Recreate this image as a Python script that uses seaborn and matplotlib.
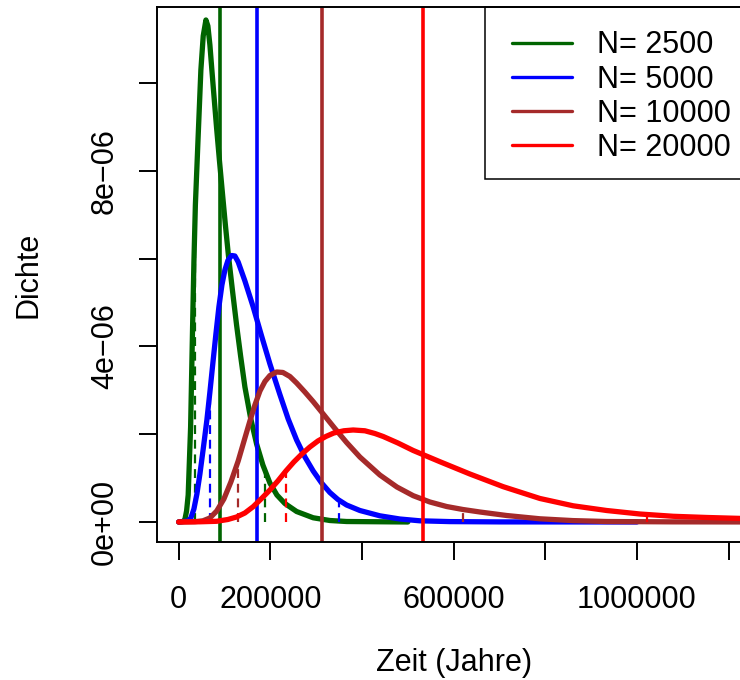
import matplotlib
matplotlib.use("Agg")
import matplotlib.pyplot as plt
import seaborn as sns
import pandas as pd
from matplotlib.lines import Line2D
from matplotlib.patches import Rectangle
from matplotlib.legend_handler import HandlerLine2D

sns.set_theme(style="white")
plt.rcParams['font.family'] = ['Liberation Sans', 'DejaVu Sans']
plt.rcParams['text.color'] = 'black'

# ---------------- data ----------------
series_labels = ["N= 2500", "N= 5000", "N= 10000", "N= 20000"]
series_colors = ["#006400", "#0000FF", "#A52A2A", "#FF0000"]

x_2500 = [0, 9200, 13500, 17200, 20700, 26000, 30300, 33200, 36400, 42500, 48400, 53500,
          59400, 63700, 68100, 72400, 76800, 82700, 88800, 95400, 101900, 108400, 117200,
          126300, 135100, 144500, 156900, 170000, 183700, 199000, 214300, 231700, 257300,
          293500, 329900, 366400, 500000]
y_2500 = [0, 1.1e-8, 5.7e-8, 2.51e-7, 6.15e-7, 2.165e-6, 4.445e-6, 5.926e-6, 7.225e-6,
          8.798e-6, 1.0302e-5, 1.1077e-5,
          1.1442e-5, 1.1305e-5, 1.0872e-5, 1.0302e-5, 9.733e-6, 8.980e-6, 8.251e-6, 7.499e-6,
          6.769e-6, 6.086e-6, 5.288e-6, 4.490e-6, 3.784e-6, 3.077e-6, 2.371e-6, 1.778e-6,
          1.299e-6, 8.89e-7, 6.15e-7, 4.22e-7, 2.39e-7, 9.6e-8, 3.4e-8, 1.1e-8, 0]

x_5000 = [0, 20100, 26600, 33200, 39700, 46300, 53500, 61500, 68100, 74600, 81200, 87700,
          94300, 100800, 107400, 115400, 122600, 129800, 144500, 162600, 180900, 199100,
          220800, 238900, 257300, 275400, 293500, 311800, 329900, 347400, 366400, 395400,
          439000, 482700, 526300, 591800, 700900, 1000000]
y_5000 = [0, 2.3e-8, 9.1e-8, 2.96e-7, 6.38e-7, 1.094e-6, 1.664e-6, 2.325e-6, 2.963e-6,
          3.624e-6, 4.285e-6, 4.900e-6, 5.402e-6, 5.744e-6, 5.960e-6, 6.074e-6, 6.063e-6,
          5.926e-6, 5.493e-6, 4.900e-6, 4.239e-6, 3.601e-6, 2.906e-6, 2.348e-6, 1.869e-6,
          1.482e-6, 1.162e-6, 8.89e-7, 6.72e-7, 5.13e-7, 3.87e-7, 2.62e-7, 1.41e-7, 6.8e-8,
          2.7e-8, 9e-9, 2e-9, 0]

x_10000 = [0, 35300, 52800, 68100, 83000, 98600, 113900, 129800, 144500, 155400, 166300,
           177300, 188200, 199100, 213600, 227400, 242700, 257300, 275300, 293600, 315300,
           340900, 366400, 395400, 439000, 476100, 511700, 548100, 584600, 620100, 657200,
           715500, 788200, 860100, 933700, 1078300, 1224700, 1400000]
y_10000 = [0, 7e-9, 2.7e-8, 9.1e-8, 2.51e-7, 5.24e-7, 9.12e-7, 1.390e-6, 1.915e-6, 2.302e-6,
           2.667e-6, 2.986e-6, 3.203e-6, 3.339e-6, 3.419e-6, 3.408e-6, 3.316e-6, 3.168e-6,
           2.963e-6, 2.742e-6, 2.462e-6, 2.131e-6, 1.812e-6, 1.481e-6, 1.071e-6, 7.98e-7,
           6.0e-7, 4.56e-7, 3.53e-7, 2.85e-7, 2.28e-7, 1.48e-7, 7.3e-8, 3.2e-8, 1.1e-8,
           3e-9, 1e-9, 0]

x_20000 = [0, 46300, 82700, 107300, 126300, 144400, 162500, 180900, 199000, 216400, 233900,
           251300, 268800, 286200, 303700, 321100, 338600, 360400, 380700, 406300, 428100,
           446200, 478300, 511700, 570000, 635400, 708100, 788200, 860900, 933800, 1006500,
           1079200, 1152000, 1224700, 1300000]
y_20000 = [0, 4.6e-9, 1.6e-8, 5.7e-8, 1.14e-7, 2.05e-7, 3.49e-7, 5.36e-7, 7.29e-7, 9.35e-7,
           1.162e-6, 1.368e-6, 1.550e-6, 1.709e-6, 1.846e-6, 1.949e-6, 2.029e-6, 2.079e-6,
           2.097e-6, 2.079e-6, 2.017e-6, 1.949e-6, 1.801e-6, 1.630e-6, 1.374e-6, 1.094e-6,
           8.05e-7, 5.36e-7, 3.69e-7, 2.62e-7, 1.82e-7, 1.30e-7, 1.03e-7, 8.2e-8, 6.5e-8]

means = [91000, 171800, 312900, 532100]
q_low = [34900, 69200, 129500, 233600]
d_low = [7.0e-6, 3.07e-6, 1.39e-6, 1.16e-6]
q_high = [187800, 349300, 619400, 1021000]
d_high = [1.2e-6, 5.1e-7, 2.87e-7, 1.75e-7]

x_ticks = [0, 200000, 400000, 600000, 800000, 1000000, 1200000]
x_ticklabels = ["0", "200000", "", "600000", "", "1000000", ""]
y_ticks = [0, 2e-6, 4e-6, 6e-6, 8e-6, 1e-5]
y_ticklabels = ["0e+00", "", "4e\u221206", "", "8e\u221206", ""]

xs = [x_2500, x_5000, x_10000, x_20000]
ys = [y_2500, y_5000, y_10000, y_20000]

# ---------------- figure ----------------
W, H = 740, 680
fig = plt.figure(figsize=(W / 100, H / 100), dpi=100)
ax_left, ax_top, ax_bottom, ax_right = 156.7, 7.3, 542.0, 750.6
ax = fig.add_axes([ax_left / W, (H - ax_bottom) / H,
                   (ax_right - ax_left) / W, (ax_bottom - ax_top) / H])
ax.set_facecolor("white")

for i in range(4):
    df = pd.DataFrame({"Zeit": xs[i], "Dichte": ys[i]})
    sns.lineplot(data=df, x="Zeit", y="Dichte", ax=ax, color=series_colors[i],
                 linewidth=3.8, sort=False, estimator=None,
                 solid_capstyle="round", solid_joinstyle="round", zorder=3)
    ax.axvline(means[i], color=series_colors[i], linewidth=2.6, zorder=3)
    for q, d in ((q_low[i], d_low[i]), (q_high[i], d_high[i])):
        ax.plot([q, q], [0, d], color=series_colors[i], linewidth=1.6,
                linestyle=(0, (4, 2.6)), zorder=3)

ax.set_xlim(-48000, 1248000)
ax.set_ylim(-4.56e-7, 1.1731e-5)

ax.set_xticks(x_ticks)
ax.set_xticklabels(x_ticklabels)
ax.set_yticks(y_ticks)
ax.set_yticklabels(y_ticklabels, rotation=90, va="center")

ax.tick_params(axis="both", direction="out", length=13, width=1.4,
               color="black", labelsize=22, labelcolor="black")
ax.tick_params(axis="x", pad=18, bottom=True)
ax.tick_params(axis="y", pad=13.4, left=True)

for sp in ax.spines.values():
    sp.set_color("black")
    sp.set_linewidth(1.4)
    sp.set_visible(True)
    sp.set_zorder(7)

ax.set_xlabel("Zeit (Jahre)", fontsize=22, color="black")
ax.set_ylabel("Dichte", fontsize=22, color="black")
ax.xaxis.set_label_coords(0.5, -(648 - ax_bottom) / (ax_bottom - ax_top))
ax.yaxis.set_label_coords((43.4 - ax_left) / (ax_right - ax_left), 0.5)

# legend frame (R style, square, anchored to the top of the plot box)
leg_left, leg_bottom = 484.7, 179.0
frame = Rectangle((leg_left / W, (H - leg_bottom) / H), (ax_right + 10 - leg_left) / W,
                  (leg_bottom - ax_top) / H, transform=fig.transFigure,
                  facecolor="white", edgecolor="black", linewidth=1.1,
                  zorder=5, clip_on=False)
ax.add_patch(frame)

handles = [Line2D([0], [0], color=c, linewidth=2.4) for c in series_colors]
leg = ax.legend(handles, series_labels, loc="upper left",
                bbox_to_anchor=((leg_left - ax_left) / (ax_right - ax_left), 1.0),
                borderaxespad=0, fontsize=22, frameon=False,
                borderpad=0.755, handlelength=2.235, handletextpad=0.70,
                labelspacing=0.137,
                handler_map={Line2D: HandlerLine2D(numpoints=2, marker_pad=0.137)})
leg.set_zorder(6)

fig.savefig("out.png", dpi=100)
